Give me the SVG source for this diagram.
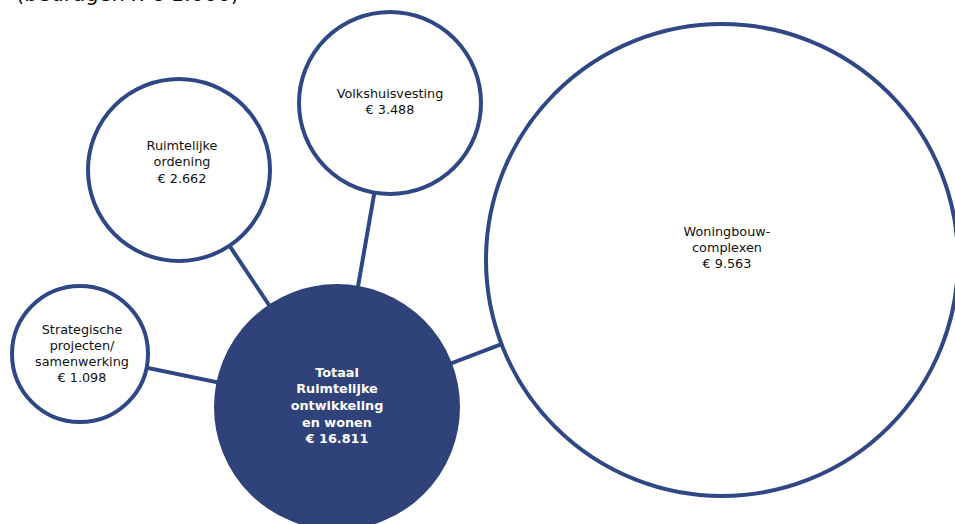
<svg xmlns="http://www.w3.org/2000/svg" width="955" height="524" viewBox="0 0 955 524">
<style>
.bg{fill:#ffffff}
.bub{fill:#ffffff;stroke:#2F4785;stroke-width:4}
.tot{fill:#2F4279;stroke:#2F4279;stroke-width:2}
.con{stroke:#2F4785;stroke-width:4;fill:none}
.lbl{font-family:"DejaVu Sans","Verdana",sans-serif;font-size:12.8px;fill:#111111;text-anchor:middle}
.lblw{font-family:"DejaVu Sans","Verdana",sans-serif;font-size:12.8px;font-weight:bold;fill:#ffffff;text-anchor:middle}
.ttl{font-family:"DejaVu Sans","Verdana",sans-serif;font-size:21px;fill:#111111}
</style>
<rect class="bg" x="0" y="0" width="955" height="524"/>
<text class="ttl" x="16" y="1">(bedragen x € 1.000)</text>
<g id="connectors">
<line class="con" x1="80" y1="354" x2="337" y2="407"/>
<line class="con" x1="179" y1="170" x2="337" y2="407"/>
<line class="con" x1="390" y1="103" x2="337" y2="407"/>
<line class="con" x1="722" y1="260" x2="337" y2="407"/>
</g>
<g id="node-woningbouw">
<circle class="bub" cx="722" cy="260" r="236"/>
<text class="lbl" x="727" y="236">Woningbouw-</text>
<text class="lbl" x="727" y="252">complexen</text>
<text class="lbl" x="727" y="268">€ 9.563</text>
</g>
<g id="node-volkshuisvesting">
<circle class="bub" cx="390" cy="103" r="91"/>
<text class="lbl" x="390" y="98">Volkshuisvesting</text>
<text class="lbl" x="390" y="114">€ 3.488</text>
</g>
<g id="node-ruimtelijke-ordening">
<circle class="bub" cx="179" cy="170" r="91"/>
<text class="lbl" x="182" y="150">Ruimtelijke</text>
<text class="lbl" x="182" y="166">ordening</text>
<text class="lbl" x="182" y="183">€ 2.662</text>
</g>
<g id="node-strategische">
<circle class="bub" cx="80" cy="354" r="68"/>
<text class="lbl" x="82" y="334">Strategische</text>
<text class="lbl" x="82" y="350">projecten/</text>
<text class="lbl" x="82" y="366">samenwerking</text>
<text class="lbl" x="82" y="382">€ 1.098</text>
</g>
<g id="node-totaal">
<circle class="tot" cx="337" cy="407" r="122"/>
<text class="lblw" x="337" y="377">Totaal</text>
<text class="lblw" x="337" y="393">Ruimtelijke</text>
<text class="lblw" x="337" y="410">ontwikkeling</text>
<text class="lblw" x="337" y="427">en wonen</text>
<text class="lblw" x="337" y="443">€ 16.811</text>
</g>
</svg>
